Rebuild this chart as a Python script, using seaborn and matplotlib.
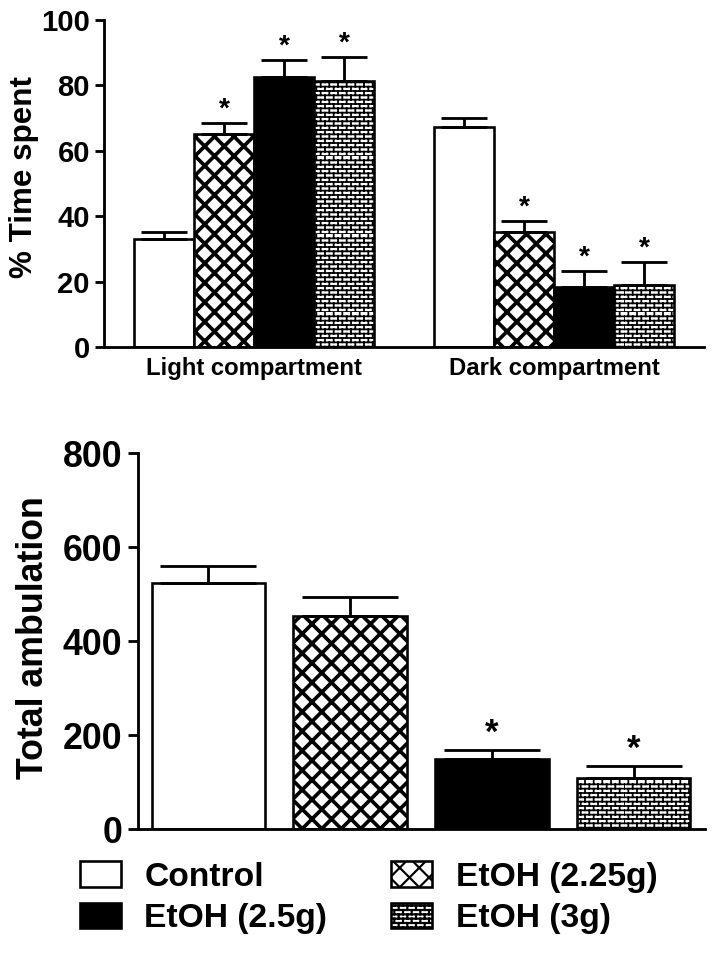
import warnings
import numpy as np
import pandas as pd
import seaborn as sns
import matplotlib
matplotlib.use('Agg')
import matplotlib.pyplot as plt
import matplotlib.patches as mpatches
from matplotlib import hatch as mhatch
from matplotlib.path import Path

warnings.filterwarnings('ignore')

# Data
groups = ['Control', 'EtOH (2.25g)', 'EtOH (2.5g)', 'EtOH (3g)']
compartments = ['Light compartment', 'Dark compartment']

light_mean = [33.0, 65.1, 82.5, 81.3]
light_sem = [2.2, 3.5, 5.3, 7.4]
light_sig = [False, True, True, True]

dark_mean = [67.4, 35.1, 18.2, 19.0]
dark_sem = [2.5, 3.4, 5.1, 7.1]
dark_sig = [False, True, True, True]

amb_mean = [524, 453, 150, 110]
amb_sem = [37, 41, 18, 24]
amb_sig = [False, False, True, True]

face = {'Control': 'white', 'EtOH (2.25g)': 'white', 'EtOH (2.5g)': 'black', 'EtOH (3g)': 'white'}
hatches = {'Control': '', 'EtOH (2.25g)': 'k', 'EtOH (2.5g)': '', 'EtOH (3g)': 'b'}
hatch_lw = {'Control': 1.0, 'EtOH (2.25g)': 3.4, 'EtOH (2.5g)': 1.0, 'EtOH (3g)': 1.6}


# brick hatch ('b') and a denser diamond cross ('k')
class BrickHatch(mhatch.HatchPatternBase):
    def __init__(self, hatch, density):
        self.rows = 18 if 'b' in hatch else 0
        self.cols = self.rows // 2
        self.num_vertices = 2 * self.rows + 2 * self.rows * self.cols

    def set_vertices_and_codes(self, vertices, codes):
        v = []
        for r in range(self.rows):
            y0 = r / self.rows
            y1 = (r + 1) / self.rows
            v += [(0, y0), (1, y0)]
            off = 0 if r % 2 == 0 else 0.5 / self.cols
            for c in range(self.cols):
                x = c / self.cols + off
                v += [(x, y0), (x, y1)]
        vertices[:] = v
        codes[0::2] = Path.MOVETO
        codes[1::2] = Path.LINETO


class DiamondHatch(mhatch.HatchPatternBase):
    def __init__(self, hatch, density):
        self.n = 8 if 'k' in hatch else 0
        self.num_vertices = 4 * (self.n + 1) if self.n else 0

    def set_vertices_and_codes(self, vertices, codes):
        steps = np.linspace(-0.5, 0.5, self.n + 1)
        v = []
        for s in steps:
            v += [(0 + s, 0 - s), (1 + s, 1 - s)]
        for s in steps:
            v += [(0 + s, 1 + s), (1 + s, 0 + s)]
        vertices[:] = v
        codes[0::2] = Path.MOVETO
        codes[1::2] = Path.LINETO


mhatch._hatch_types.append(BrickHatch)
mhatch._hatch_types.append(DiamondHatch)
mhatch._validate_hatch_pattern = lambda h: None

sns.set_style('ticks')
plt.rcParams['font.family'] = ['Liberation Sans', 'DejaVu Sans']
plt.rcParams['font.weight'] = 'bold'
plt.rcParams['axes.labelweight'] = 'bold'
plt.rcParams['hatch.linewidth'] = 2.0
plt.rcParams['axes.linewidth'] = 2.6
for key in ['text.color', 'axes.labelcolor', 'xtick.color', 'ytick.color', 'axes.edgecolor']:
    plt.rcParams[key] = 'black'

DPI = 78
fig = plt.figure(figsize=(714 / DPI, 971 / DPI), dpi=DPI)
ax1 = fig.add_axes([104 / 714, 1 - 347 / 971, 600 / 714, 327 / 971])
ax2 = fig.add_axes([137.5 / 714, 1 - 829.3 / 971, 567 / 714, 376 / 971])


def style_bars(ax, hue_levels):
    for level, cont in zip(hue_levels, ax.containers):
        for bar in cont:
            bar.set_facecolor(face[level])
            bar.set_edgecolor('black')
            bar.set_linewidth(2.4)
            bar.set_hatch(hatches[level])
            if hasattr(bar, 'set_hatch_linewidth'):
                bar.set_hatch_linewidth(hatch_lw[level])


def add_errors(ax, sems, sigs, capsize, star_size):
    for cont, sem, sig in zip(ax.containers, sems, sigs):
        for bar, e, s in zip(cont, sem, sig):
            x = bar.get_x() + bar.get_width() / 2
            y = bar.get_height()
            ax.errorbar([x], [y], yerr=[[0], [e]], fmt='none', ecolor='black',
                        elinewidth=2.6, capsize=capsize, capthick=2.6, zorder=1)
            if s:
                ax.annotate('*', (x, y + e), xytext=(0, 0), textcoords='offset points',
                            ha='center', va='bottom', fontsize=star_size, fontweight='bold')


# top panel
top = pd.DataFrame({
    'compartment': np.repeat(compartments, len(groups)),
    'group': groups * 2,
    'value': light_mean + dark_mean,
})
sns.barplot(data=top, x='compartment', y='value', hue='group', hue_order=groups,
            order=compartments, width=0.8, errorbar=None, legend=False, ax=ax1)
style_bars(ax1, groups)
top_sem = [[light_sem[i], dark_sem[i]] for i in range(4)]
top_sig = [[light_sig[i], dark_sig[i]] for i in range(4)]
add_errors(ax1, top_sem, top_sig, capsize=21, star_size=26)
ax1.set_xlim(-0.5, 1.5)
ax1.set_ylim(0, 100)
ax1.set_yticks(range(0, 101, 20))
ax1.set_xlabel('')
ax1.set_ylabel('% Time spent', fontsize=29)
ax1.yaxis.set_label_coords(-0.108, 0.52)
ax1.tick_params(axis='y', labelsize=27, length=8, width=2.6, pad=5)
ax1.tick_params(axis='x', labelsize=22, length=0, pad=9)

# bottom panel
bottom = pd.DataFrame({'group': groups, 'value': amb_mean})
sns.barplot(data=bottom, x='group', y='value', hue='group', hue_order=groups, order=groups,
            width=0.8, errorbar=None, legend=False, dodge=False, ax=ax2)
style_bars(ax2, groups)
add_errors(ax2, [[s] for s in amb_sem], [[s] for s in amb_sig], capsize=44, star_size=32)
ax2.set_xlim(-0.5, 3.5)
ax2.set_ylim(0, 800)
ax2.set_yticks(range(0, 801, 200))
ax2.set_xticks([])
ax2.set_xlabel('')
ax2.set_ylabel('Total ambulation', fontsize=33)
ax2.yaxis.set_label_coords(-0.152, 0.51)
ax2.tick_params(axis='y', labelsize=33, length=9, width=2.6, pad=5)

for ax in (ax1, ax2):
    sns.despine(ax=ax)
    for sp in ax.spines.values():
        sp.set_linewidth(2.6)

# legend
order = ['Control', 'EtOH (2.5g)', 'EtOH (2.25g)', 'EtOH (3g)']
handles = []
for g in order:
    p = mpatches.Patch(facecolor=face[g], edgecolor='black', hatch=hatches[g], linewidth=2.4)
    if hasattr(p, 'set_hatch_linewidth'):
        p.set_hatch_linewidth(hatch_lw[g])
    handles.append(p)
fig.legend(handles, order, loc='upper left', bbox_to_anchor=(80 / 714, 1 - 861 / 971),
           ncol=2, frameon=False, fontsize=31, handlelength=1.22, handleheight=0.8,
           handletextpad=0.7, columnspacing=1.9, labelspacing=0.3, borderpad=0,
           borderaxespad=0)

fig.savefig('out.png', dpi=DPI)
